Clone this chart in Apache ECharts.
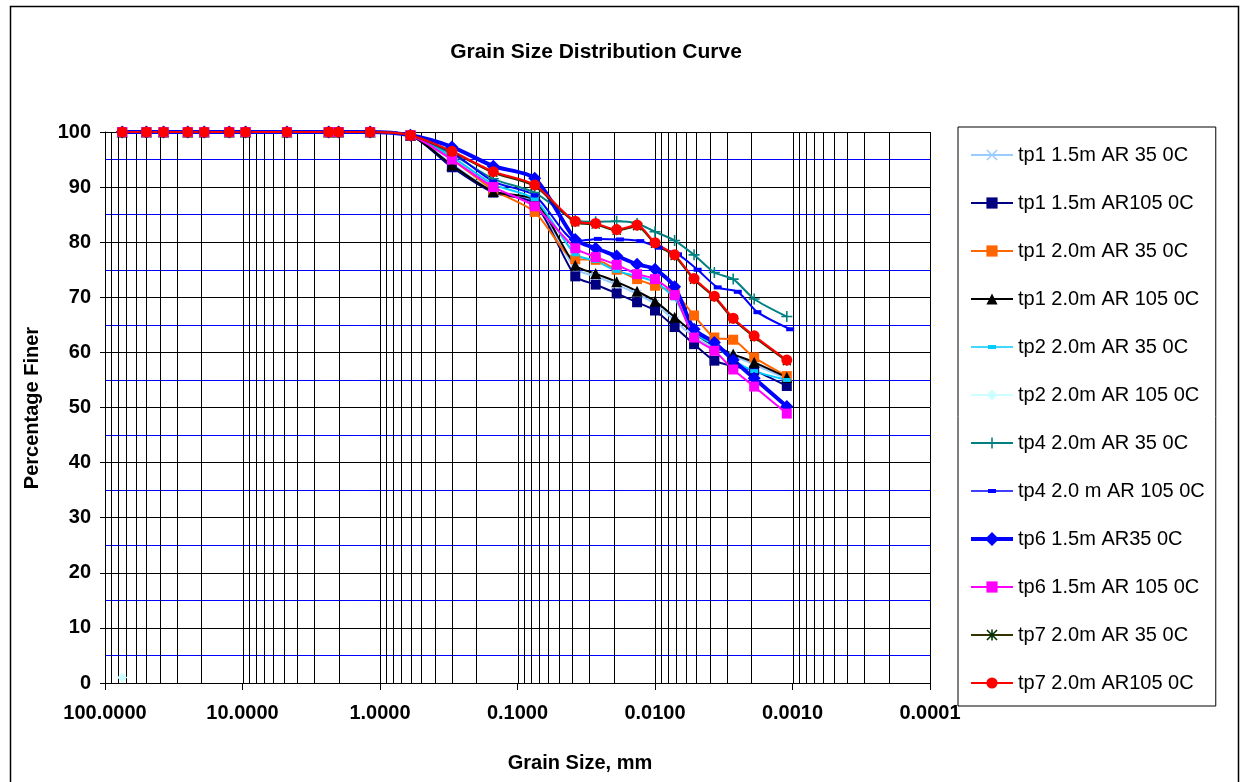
<!DOCTYPE html>
<html>
<head>
<meta charset="utf-8">
<script src="https://cdn.jsdelivr.net/npm/echarts@6/dist/echarts.min.js"></script>
<style>
html,body{margin:0;padding:0;background:#fff;}
#chart{width:1250px;height:782px;}
</style>
</head>
<body>
<div id="chart"></div>
<script>
// ---------------- DATA ----------------
const TITLE = 'Grain Size Distribution Curve';
const X_NAME = 'Grain Size, mm';
const Y_NAME = 'Percentage Finer';

// sieve sizes (mm) common to all tests
const SIEVE_D = [75, 50, 37.5, 25, 19, 12.5, 9.5, 4.75, 2.36, 2.0, 1.18, 0.6, 0.3, 0.15, 0.075];
// hydrometer diameters (mm)
const HYD_D = [0.038, 0.027, 0.019, 0.0135, 0.0100, 0.0072, 0.0052, 0.0037, 0.0027, 0.0019, 0.0011];
const HYD_D_TP4B = [0.037, 0.026, 0.018, 0.0128, 0.0094, 0.0068, 0.0049, 0.0035, 0.0025, 0.0018, 0.00104];

const SIEVE_TOP = [100, 100, 100, 100, 100, 100, 100, 100, 100, 100, 100, 99.4];

const tp1_15_35   = [94.2, 89.3, 87.3, 75.2, 73.8, 72.3, 70.6, 68.8, 65.8, 62.8, 60.8, 59.4, 57.8, 55.2];
const tp1_15_105  = [93.6, 89.0, 87.0, 73.8, 72.3, 70.7, 69.1, 67.6, 64.6, 61.5, 58.5, 57.5, 56.7, 53.9];
const tp1_20_35   = [95.0, 89.5, 85.5, 76.9, 76.8, 75.0, 73.3, 72.1, 70.8, 66.7, 62.7, 62.3, 59.1, 55.7];
const tp1_20_105  = [94.0, 89.2, 87.6, 75.8, 74.3, 72.8, 71.1, 69.3, 66.4, 63.5, 61.2, 59.7, 58.2, 55.5];
const tp2_20_35   = [95.5, 90.5, 87.8, 77.8, 76.6, 74.8, 73.8, 72.8, 69.8, 63.6, 61.3, 58.6, 56.6, 55.0];
const tp2_20_105  = [[75, 1]];
const tp4_20_35   = [96.0, 91.5, 89.0, 84.0, 83.7, 83.8, 83.4, 81.9, 80.3, 77.7, 74.5, 73.3, 69.7, 66.5];
const tp4_20_105  = [96.3, 91.0, 88.5, 80.2, 80.6, 80.5, 80.2, 79.0, 77.8, 75.0, 71.8, 71.0, 67.3, 64.2];
const tp6_15_35   = [97.3, 93.8, 91.6, 80.5, 78.9, 77.5, 76.0, 75.1, 71.9, 64.2, 61.8, 58.6, 55.3, 50.2];
const tp6_15_105  = [95.0, 90.0, 86.5, 78.9, 77.3, 75.9, 74.2, 73.3, 70.4, 62.7, 60.3, 56.9, 53.8, 48.9];
const tp7_20_35   = [96.4, 92.6, 90.2, 83.6, 83.2, 82.1, 82.9, 79.7, 77.5, 73.2, 70.0, 66.0, 62.8, 58.4];
const tp7_20_105  = [96.5, 92.8, 90.4, 83.8, 83.4, 82.3, 83.1, 79.9, 77.7, 73.4, 70.2, 66.2, 63.0, 58.6];

const X_TICK_LABELS = ['100.0000', '10.0000', '1.0000', '0.1000', '0.0100', '0.0010', '0.0001'];

// ---------------- BUILD ----------------
function pairs(values, hyd) {
  const h = hyd || HYD_D;
  const ds = SIEVE_D.concat(h);
  const vs = SIEVE_TOP.concat(values);
  return ds.map((d, i) => [d, vs[i]]);
}

// log grid line positions (1..9 x 10^k)
const GRID_X = [];
for (let k = -4; k <= 2; k++) {
  for (let m = 1; m <= 9; m++) {
    const v = m * Math.pow(10, k);
    if (v <= 100.0000001) GRID_X.push(+v.toPrecision(6));
  }
}

const FONT = '"Liberation Sans", Arial, sans-serif';
const X_PATH = 'path://M1,0L5,4L9,0L10,1L6,5L10,9L9,10L5,6L1,10L0,9L4,5L0,1Z';
const PLUS_PATH = 'path://M4.3,0H5.7V4.3H10V5.7H5.7V10H4.3V5.7H0V4.3H4.3Z';
const STAR_PATH = 'path://M1,0L5,4L9,0L10,1L6,5L10,9L9,10L5,6L1,10L0,9L4,5L0,1ZM4.3,0H5.7V10H4.3Z';
const DASH_ICON = 'path://M0,1.2H42V2.8H0ZM17,0H25V4H17Z';
const THICK_DIAMOND_ICON = 'path://M0,5H42V9H0ZM21,0L28,7L21,14L14,7Z';

function mk(name, data, color, symbol, size, width, extra) {
  return Object.assign({
    name: name,
    type: 'line',
    data: data,
    smooth: 0.25,
    symbol: symbol,
    symbolSize: size,
    symbolKeepAspect: true,
    showSymbol: true,
    lineStyle: { color: color, width: width },
    itemStyle: { color: color, borderColor: color, borderWidth: 0 },
    emphasis: { disabled: true },
    z: 3
  }, extra || {});
}

const gridSeries = {
  type: 'custom',
  name: 'log-grid',
  silent: true,
  z: 1,
  clip: false,
  data: GRID_X.map(v => [v, 0]),
  encode: { x: 0, y: 1 },
  renderItem: function (params, api) {
    const v = api.value(0);
    const p0 = api.coord([v, 0]);
    const p1 = api.coord([v, 100]);
    const x = Math.round(p0[0]) + 0.5;
    return {
      type: 'line',
      shape: { x1: x, y1: p0[1], x2: x, y2: p1[1] },
      style: { stroke: '#000', lineWidth: 1 }
    };
  }
};

const series = [
  mk('tp1 1.5m AR 35 0C', pairs(tp1_15_35), '#99CCFF', X_PATH, 9, 2),
  mk('tp1 1.5m AR105 0C', pairs(tp1_15_105), '#000080', 'rect', 10, 2),
  mk('tp1 2.0m AR 35 0C', pairs(tp1_20_35), '#FF6600', 'rect', 10, 2),
  mk('tp1 2.0m AR 105 0C', pairs(tp1_20_105), '#000000', 'triangle', 11, 2),
  mk('tp2 2.0m AR 35 0C', pairs(tp2_20_35), '#00CCFF', 'rect', [8, 4], 2, { symbolKeepAspect: false }),
  mk('tp2 2.0m AR 105 0C', tp2_20_105, '#CCFFFF', 'diamond', 10, 2),
  mk('tp4 2.0m AR 35 0C', pairs(tp4_20_35), '#008080', PLUS_PATH, 11, 2),
  mk('tp4 2.0 m AR 105 0C', pairs(tp4_20_105, HYD_D_TP4B), '#0000FF', 'rect', [8, 4], 2, { symbolKeepAspect: false }),
  mk('tp6 1.5m AR35 0C', pairs(tp6_15_35), '#0000FF', 'diamond', 13, 4),
  mk('tp6 1.5m AR 105 0C', pairs(tp6_15_105), '#FF00FF', 'rect', 10, 2),
  mk('tp7 2.0m AR 35 0C', pairs(tp7_20_35), '#333300', STAR_PATH, 9, 2, { itemStyle: { color: '#003300' } }),
  mk('tp7 2.0m AR105 0C', pairs(tp7_20_105), '#FF0000', 'circle', 11, 2)
];

const legendData = series.map(s => {
  if (s.name === 'tp2 2.0m AR 35 0C' || s.name === 'tp4 2.0 m AR 105 0C') return { name: s.name, icon: DASH_ICON };
  if (s.name === 'tp6 1.5m AR35 0C') return { name: s.name, icon: THICK_DIAMOND_ICON };
  return { name: s.name };
});

const chart = echarts.init(document.getElementById('chart'), null, { renderer: 'canvas' });
chart.setOption({
  animation: false,
  backgroundColor: '#fff',
  textStyle: { fontFamily: FONT },
  grid: { left: 105, top: 132, right: 320, bottom: 99, containLabel: false },
  xAxis: {
    type: 'log',
    logBase: 10,
    min: 0.0001,
    max: 100,
    inverse: true,
    axisLine: { show: true, onZero: false, lineStyle: { color: '#000', width: 1 } },
    axisTick: { show: true, length: 7, lineStyle: { color: '#000' } },
    axisLabel: {
      color: '#000', fontWeight: 'bold', fontSize: 20, fontFamily: FONT, margin: 20,
      formatter: function (v) {
        const e = Math.round(Math.log10(v));
        return X_TICK_LABELS[2 - e] !== undefined ? X_TICK_LABELS[2 - e] : '';
      }
    },
    splitLine: { show: false }
  },
  yAxis: {
    type: 'value',
    min: 0,
    max: 100,
    interval: 10,
    axisLine: { show: true, lineStyle: { color: '#000', width: 1 } },
    axisTick: { show: true, length: 5, lineStyle: { color: '#000' } },
    axisLabel: { color: '#000', fontWeight: 'bold', fontSize: 20, fontFamily: FONT, margin: 14 },
    splitLine: { show: true, lineStyle: { color: '#000', width: 1 } },
    minorTick: { show: false, splitNumber: 2 },
    minorSplitLine: { show: true, lineStyle: { color: '#0000FF', width: 1 } }
  },
  legend: {
    orient: 'vertical',
    left: 958,
    top: 127,
    padding: [17, 11, 12, 12],
    itemGap: 26,
    itemWidth: 42,
    itemHeight: 14,
    borderColor: '#000',
    borderWidth: 1,
    backgroundColor: '#fff',
    textStyle: { color: '#000', fontSize: 20, fontFamily: FONT, lineHeight: 22 },
    data: legendData
  },
  graphic: [
    { type: 'rect', silent: true, z: -10, shape: { x: 10.5, y: 6.5, width: 1228, height: 800 },
      style: { fill: 'transparent', stroke: '#000', lineWidth: 1.5 } },
    { type: 'text', silent: true, x: 596, y: 52,
      style: { text: TITLE, fill: '#000', font: 'bold 21px ' + FONT, align: 'center', verticalAlign: 'middle' } },
    { type: 'text', silent: true, x: 580, y: 763,
      style: { text: X_NAME, fill: '#000', font: 'bold 20px ' + FONT, align: 'center', verticalAlign: 'middle' } },
    { type: 'text', silent: true, x: 32, y: 408, rotation: Math.PI / 2,
      style: { text: Y_NAME, fill: '#000', font: 'bold 20px ' + FONT, align: 'center', verticalAlign: 'middle' } }
  ],
  series: [gridSeries].concat(series)
});
</script>
</body>
</html>
